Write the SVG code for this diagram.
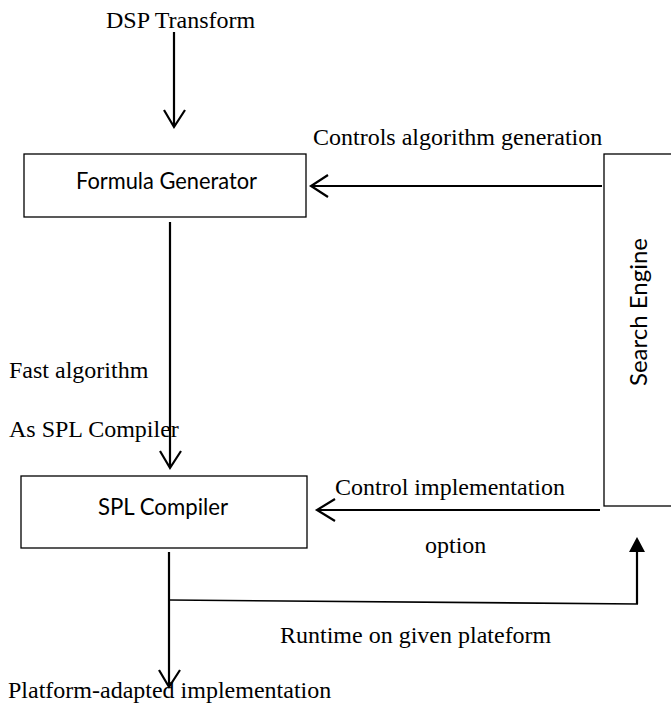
<svg xmlns="http://www.w3.org/2000/svg" width="671" height="707" viewBox="0 0 671 707">
<style>
.box{fill:#fff;stroke:#000;stroke-width:1.3}
.serif{font-family:"Liberation Serif","Times New Roman",serif;font-size:24px;fill:#000}
.sans{font-family:Lato,"Liberation Sans",sans-serif;font-size:23px;fill:#000}
.ln{fill:none;stroke:#000;stroke-width:2.2}
.thin{fill:none;stroke:#000;stroke-width:1.6}
</style>
<rect width="671" height="707" fill="#fff"/>
<g id="labels">
<text class="serif" x="106" y="28">DSP Transform</text>
<text class="serif" x="313" y="145">Controls algorithm generation</text>
<text class="serif" x="9" y="378">Fast algorithm</text>
<text class="serif" x="9" y="437">As SPL Compiler</text>
<text class="serif" x="335" y="495">Control implementation</text>
<text class="serif" x="425" y="553">option</text>
<text class="serif" x="280" y="643">Runtime on given plateform</text>
<text class="serif" x="8" y="698">Platform-adapted implementation</text>
</g>
<g id="formula-generator">
<rect class="box" x="24" y="154" width="282" height="63"/>
<text class="sans" x="76" y="189" textLength="181" lengthAdjust="spacingAndGlyphs">Formula Generator</text>
</g>
<g id="spl-compiler">
<rect class="box" x="21" y="476" width="286" height="72"/>
<text class="sans" x="98" y="515" textLength="130" lengthAdjust="spacingAndGlyphs">SPL Compiler</text>
</g>
<g id="search-engine">
<rect class="box" x="604" y="154" width="90" height="352"/>
<text class="sans" transform="translate(647,386) rotate(-90)" textLength="148" lengthAdjust="spacingAndGlyphs">Search Engine</text>
</g>
<g id="connectors">
<path class="ln" d="M174 32V127M164 110L174 127L185 110"/>
<path class="ln" d="M602 186H311M328 175L311 186L328 197"/>
<path class="ln" d="M170 222V468M160 451L170 468L181 451"/>
<path class="ln" d="M600 510H317M335 499L317 510L335 521"/>
<path class="ln" d="M169 552V687M159 670L169 687L180 670"/>
<path class="thin" d="M169 600L638 604"/>
<path class="ln" d="M637 604V550"/>
<polygon points="637,537 629,552 645,552" fill="#000"/>
</g>
</svg>
